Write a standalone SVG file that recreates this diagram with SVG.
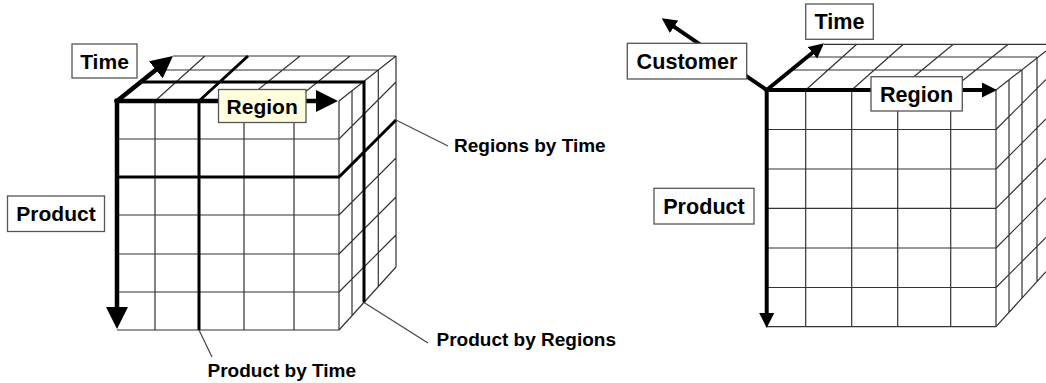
<svg xmlns="http://www.w3.org/2000/svg" width="1046" height="383" viewBox="0 0 1046 383">
<style>
.g{fill:none;stroke:#333;stroke-width:1.2}
.s{fill:none;stroke:#000;stroke-width:3}
.ax{fill:none;stroke:#000;stroke-width:4.5;stroke-linecap:square}
.ax2{fill:none;stroke:#000;stroke-width:4;stroke-linecap:square}
.ld{fill:none;stroke:#444;stroke-width:1.2}
.box{fill:#fff;stroke:#555;stroke-width:1.3}
.yel{fill:#ffffdd}
.lb{font-family:"Liberation Sans",Arial,sans-serif;font-weight:bold;font-size:21px;fill:#000;text-anchor:middle}
.lb2{font-size:21.6px}
.an{font-family:"Liberation Sans",Arial,sans-serif;font-weight:bold;font-size:19px;fill:#000}
</style>
<defs>
<marker id="ah" viewBox="0 -11 22 22" refX="0" refY="0" markerWidth="22" markerHeight="22" markerUnits="userSpaceOnUse" orient="auto"><path d="M0,-11 L22,0 L0,11 Z" fill="#000"/></marker>
<marker id="ah2" viewBox="0 -7.5 15 15" refX="0" refY="0" markerWidth="15" markerHeight="15" markerUnits="userSpaceOnUse" orient="auto"><path d="M0,-7.5 L15,0 L0,7.5 Z" fill="#000"/></marker>
</defs>

<g id="cube-left">
<path class="g" d="M155,101V330M244,101V330M294,101V330M339,101V330M117,139H339M117,215H339M117,254H339M117,292H339M117,330H339"/>
<path class="g" d="M173,56H396M156.2,70H378.3M155,101L205,56M244,101L300,56M294,101L350,56M339,101L396,56"/>
<path class="g" d="M396,56V267M352,90.7V315.6M378.3,70V286.9M339,139L396,82M339,215L396,158M339,254L396,197M339,292L396,235M339,330L396,267"/>
<path class="s" d="M199,101V330M117,177H339L396,120M199,101L248,56M140.6,82H364V302.4"/>
</g>

<g id="cube-right">
<path class="g" d="M805.7,90V326.7M851.7,90V326.7M897.7,90V326.7M950.7,90V326.7M996,90V326.7M766.7,129.5H996M766.7,169H996M766.7,208.4H996M766.7,248H996M766.7,287.5H996M766.7,326.7H996"/>
<path class="g" d="M824,44.3H1046M807.2,57H1037M791.2,70H1022M805.7,90L856.7,44.3M851.7,90L903.3,44.3M897.7,90L953.3,44.3M950.7,90L1008.3,44.3M996,90L1046,51"/>
<path class="g" d="M1009,80V312.4M1022,70V298M1037,57V281.6M996,129.5L1046,79.5M996,169L1046,119M996,208.4L1046,158.4M996,248L1046,198M996,287.5L1046,237.5M996,326.7L1046,271.7"/>
</g>

<g id="connectors">
<path class="ax" d="M117,101L155.8,69.8" marker-end="url(#ah)"/>
<path class="ax" d="M117,101H316" marker-end="url(#ah)"/>
<path class="ax" d="M117,101V307" marker-end="url(#ah)"/>
<path class="ax2" d="M766.7,90L812.4,52.8" marker-end="url(#ah2)"/>
<path class="ax2" d="M766.7,90H982" marker-end="url(#ah2)"/>
<path class="ax2" d="M766.7,90V313" marker-end="url(#ah2)"/>
<path class="ax2" d="M766.7,90L674.1,26.8" marker-end="url(#ah2)"/>
<path class="ld" d="M396,120L448,146"/>
<path class="ld" d="M364,302.4L428,343"/>
<path class="ld" d="M199,330L212,357"/>
</g>

<g id="label-time-left"><rect class="box" x="72" y="44" width="65" height="34"/><text class="lb" x="104.5" y="68.5">Time</text></g>
<g id="label-product-left"><rect class="box" x="7.5" y="196" width="97" height="35.5"/><text class="lb" x="56" y="221.3">Product</text></g>
<g id="label-region-left"><rect class="box yel" x="218.5" y="89.5" width="87.5" height="33"/><text class="lb" x="262.2" y="113.5">Region</text></g>
<g id="label-regions-by-time"><text class="an" x="454" y="152">Regions by Time</text></g>
<g id="label-product-by-regions"><text class="an" x="436.5" y="346">Product by Regions</text></g>
<g id="label-product-by-time"><text class="an" x="207.5" y="376.5">Product by Time</text></g>

<g id="label-time-right"><rect class="box" x="805.7" y="4" width="67.6" height="35.3"/><text class="lb lb2" x="839.5" y="29.2">Time</text></g>
<g id="label-customer"><rect class="box" x="627.3" y="43.3" width="119.4" height="35.7"/><text class="lb lb2" x="687" y="68.8">Customer</text></g>
<g id="label-region-right"><rect class="box" x="871" y="76.7" width="91.3" height="34.3"/><text class="lb lb2" x="916.6" y="101.5">Region</text></g>
<g id="label-product-right"><rect class="box" x="654" y="188.3" width="100" height="35.7"/><text class="lb lb2" x="704" y="213.8">Product</text></g>
</svg>
